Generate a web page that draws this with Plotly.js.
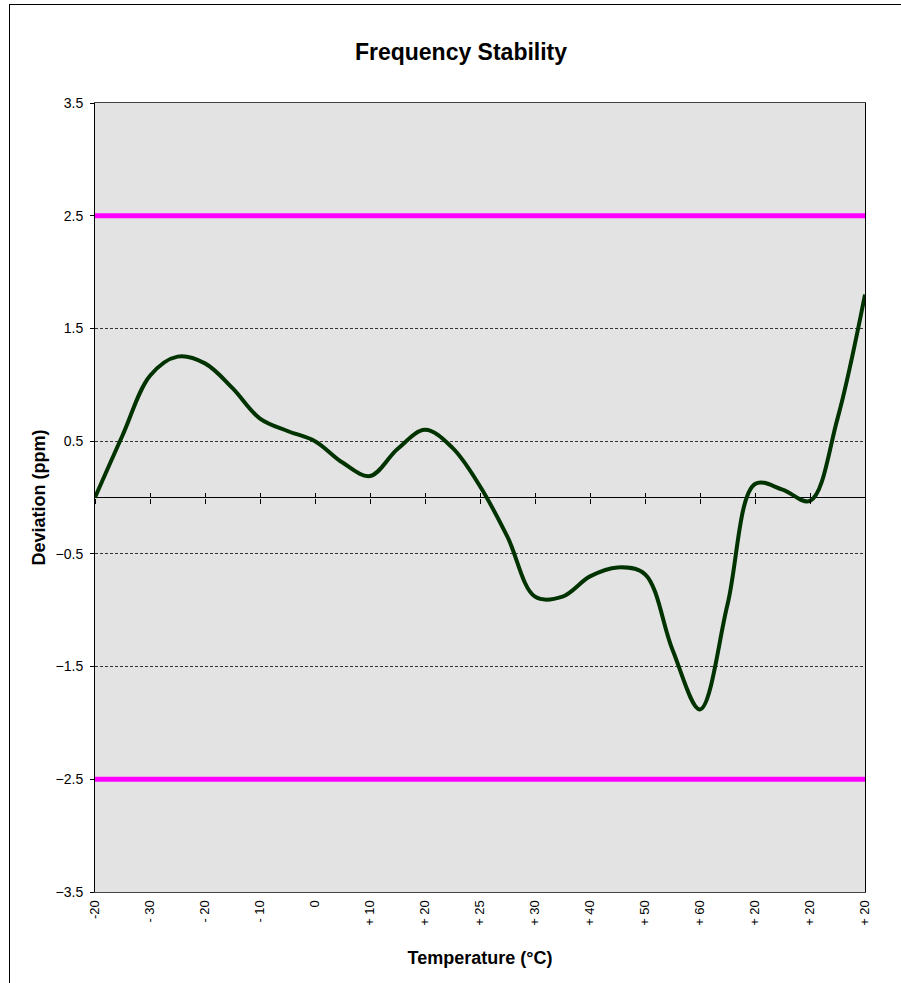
<!DOCTYPE html>
<html>
<head>
<meta charset="utf-8">
<script src="https://cdn.plot.ly/plotly-3.0.1.min.js"></script>
<style>
  html, body { margin: 0; padding: 0; background: #fff; overflow: hidden; }
  #wrap { position: relative; width: 901px; height: 983px; overflow: hidden; }
  #chart { position: absolute; left: 0; top: 0; width: 901px; height: 983px; }
  #frame { position: absolute; left: 9px; top: 4px; width: 1000px; height: 1000px;
           border-left: 1px solid #000; border-top: 1px solid #000; pointer-events: none; }
</style>
</head>
<body>
<div id="wrap">
  <div id="chart"></div>
  <div id="frame"></div>
</div>
<script>
// Category tick labels along the temperature axis
const tempLabels = ['-20', '- 30', '- 20', '- 10', '0', '+ 10', '+ 20', '+ 25',
                    '+ 30', '+ 40', '+ 50', '+ 60', '+ 20', '+ 20', '+ 20'];

// Measured deviation (ppm), sampled every half category step
const deviation = [0.00, 0.55, 1.08, 1.25, 1.19, 0.97, 0.70, 0.59, 0.50, 0.31,
                   0.19, 0.43, 0.60, 0.44, 0.10, -0.35, -0.88, -0.88, -0.70, -0.62,
                   -0.68, -1.35, -1.88, -0.95, 0.12, 0.07, -0.03, 0.70, 1.80];

// Specification limits (ppm)
const upperLimit = [2.5, 2.5];
const lowerLimit = [-2.5, -2.5];

const catIdx = tempLabels.map((_, i) => i);
const devX = deviation.map((_, i) => i / 2);
const limX = [0, tempLabels.length - 1];

const font = 'Arial, "Liberation Sans", sans-serif';

const traces = [
  { x: limX, y: upperLimit, mode: 'lines', line: { color: '#ff00ff', width: 5 }, hoverinfo: 'skip' },
  { x: limX, y: lowerLimit, mode: 'lines', line: { color: '#ff00ff', width: 5 }, hoverinfo: 'skip' },
  { x: devX, y: deviation, mode: 'lines',
    line: { color: '#003300', width: 4, shape: 'spline', smoothing: 1 } },
  // invisible traces to activate the tick axes at the zero line
  { x: limX, y: [0, 0], xaxis: 'x2', mode: 'lines', line: { width: 0 }, hoverinfo: 'skip' },
  { x: limX, y: [0, 0], xaxis: 'x3', mode: 'lines', line: { width: 0 }, hoverinfo: 'skip' }
];

const tickAxisBase = {
  overlaying: 'x', anchor: 'free', position: 0.5, range: [0, 14],
  tickvals: catIdx, showticklabels: false, showgrid: false, zeroline: false,
  showline: false, ticklen: 5, tickwidth: 1, tickcolor: '#000'
};

const layout = {
  width: 901, height: 983,
  margin: { l: 95, r: 36, t: 103, b: 91 },
  paper_bgcolor: '#ffffff',
  plot_bgcolor: '#e3e3e3',
  showlegend: false,
  font: { family: font, color: '#000', size: 12 },
  title: { text: '<b>Frequency Stability</b>', font: { family: font, size: 23, color: '#000' },
           x: 461 / 901, xref: 'container', xanchor: 'center', y: 1 - 52 / 983, yref: 'container', yanchor: 'middle' },
  xaxis: {
    range: [0, 14], tickvals: catIdx, ticktext: tempLabels, tickangle: -90,
    ticks: '', showgrid: false, zeroline: false,
    showline: true, linecolor: '#444', linewidth: 1, mirror: true,
    tickfont: { family: font, size: 13, color: '#000' },
    ticklabelstandoff: 2,
    title: { text: '<b>Temperature (°C)</b>', font: { family: font, size: 18, color: '#000' }, standoff: 26 }
  },
  xaxis2: Object.assign({}, tickAxisBase, { ticks: 'inside' }),
  xaxis3: Object.assign({}, tickAxisBase, { ticks: 'outside' }),
  yaxis: {
    range: [-3.5, 3.5], tick0: 0.5, dtick: 1, tickformat: '.1f',
    ticks: 'outside', ticklen: 4, tickcolor: '#000',
    showline: true, linecolor: '#000', linewidth: 1, mirror: true,
    showgrid: true, gridcolor: '#333', gridwidth: 1, griddash: '3px,2px',
    zeroline: true, zerolinecolor: '#000', zerolinewidth: 1,
    tickfont: { family: font, size: 14, color: '#000' },
    ticklabelstandoff: 4,
    title: { text: '<b>Deviation (ppm)</b>', font: { family: font, size: 18, color: '#000' }, standoff: 5 }
  }
};

Plotly.newPlot('chart', traces, layout, { staticPlot: true, displayModeBar: false });
</script>
</body>
</html>
